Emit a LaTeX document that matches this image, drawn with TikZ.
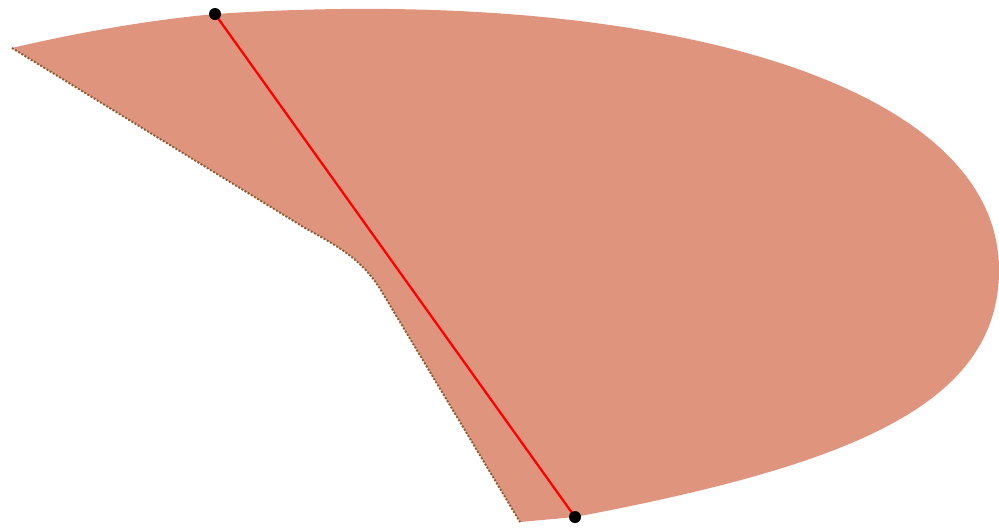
\documentclass[tikz,border=0pt]{standalone}
\usepackage{tikz}
\usepackage{xcolor}
\usetikzlibrary{positioning, calc}
\definecolor{Salmon}{HTML}{DF957D}
\definecolor{Rim}{HTML}{8A5A2E}
\definecolor{Chord}{HTML}{FF0000}

\begin{document}
\begin{tikzpicture}[
    x=0.02cm, y=-0.02cm,
    sheet/.style={fill=Salmon, draw=none},
    rim/.style={draw=Rim, densely dotted, line width=1.1pt},
    chord/.style={draw=Chord, line width=1.3pt},
    endpt/.style={circle, fill=black, inner sep=0pt, minimum size=0.24cm}
]
\useasboundingbox (0,0) rectangle (999,529);

% surface patch
\path[sheet] (12,48) .. controls (80,32) and (150,20) .. (215,14)
    .. controls (650,-15) and (999,80) .. (999,270)
    .. controls (999,405) and (850,465) .. (575,517)
    -- (520,522) -- (385,297)
    .. controls (365,262) and (345,250) .. (305,228) -- cycle;

% dotted left edge
\draw[rim] (12,48) -- (305,228) .. controls (345,250) and (365,262) .. (385,297) -- (520,522);

\coordinate (p) at (215,14);
\coordinate (q) at (575,517);
\draw[chord] (p) -- (q);
\node[endpt] at (p) {};
\node[endpt] at (q) {};

\end{tikzpicture}
\end{document}
